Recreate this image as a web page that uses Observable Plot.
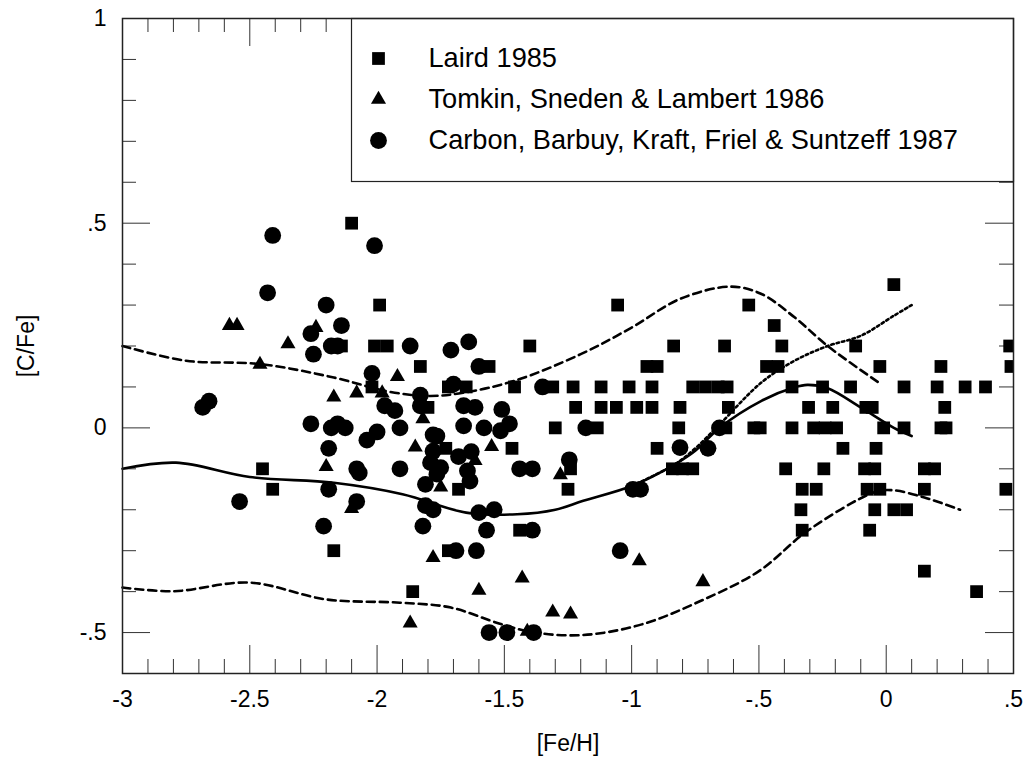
<!DOCTYPE html>
<html><head><meta charset="utf-8">
<script src="https://cdn.jsdelivr.net/npm/d3@7"></script>
<script src="https://cdn.jsdelivr.net/npm/@observablehq/plot@0.6"></script>
<style>body{margin:0;background:#fff}svg{display:block}</style>
</head><body><div id="chart"></div>
<script>
// ---- Data ----
const seriesNames = ["Laird 1985", "Tomkin, Sneden & Lambert 1986", "Carbon, Barbuy, Kraft, Friel & Suntzeff 1987"];

const lairdFeH = [-2.10,-1.99,-2.14,-2.01,-1.96,-2.02,-2.45,-2.41,-2.17,
  -1.83,-1.56,-1.72,-1.65,-1.46,-1.31,-1.23,-1.12,-1.01,-0.92,-0.76,-0.71,-0.66,-0.625,-0.37,-0.25,-0.14,0.07,0.20,0.31,0.39,
  -1.80,-1.22,-1.12,-1.06,-0.98,-0.92,-0.81,-0.62,-0.305,-0.21,-0.08,-0.055,0.23,
  -1.30,-1.135,-0.815,-0.63,-0.52,-0.495,-0.37,-0.285,-0.24,-0.195,-0.01,0.07,0.215,0.235,
  -1.73,-1.47,-0.90,-0.17,-0.04,
  -1.24,-0.84,-0.80,-0.76,-0.395,-0.245,-0.085,-0.045,0.15,0.19,
  -1.68,-1.25,-0.33,-0.275,-0.075,-0.025,0.15,0.47,
  -0.335,-0.045,0.03,0.08,
  -0.33,-0.065,-1.44,
  -1.72,-1.86,0.15,0.355,
  0.03,-0.54,-1.055,-0.44,
  -1.40,-0.835,-0.635,-0.41,-0.12,0.485,
  -0.94,-0.90,-0.47,-0.425,-0.025,0.215,0.49];
const lairdCFe = [0.50,0.30,0.20,0.20,0.20,0.10,-0.10,-0.15,-0.30,
  0.15,0.15,0.10,0.10,0.10,0.10,0.10,0.10,0.10,0.10,0.10,0.10,0.10,0.10,0.10,0.10,0.10,0.10,0.10,0.10,0.10,
  0.05,0.05,0.05,0.05,0.05,0.05,0.05,0.05,0.05,0.05,0.05,0.05,0.05,
  0,0,0,0,0,0,0,0,0,0,0,0,0,0,
  -0.05,-0.05,-0.05,-0.05,-0.05,
  -0.10,-0.10,-0.10,-0.10,-0.10,-0.10,-0.10,-0.10,-0.10,-0.10,
  -0.15,-0.15,-0.15,-0.15,-0.15,-0.15,-0.15,-0.15,
  -0.20,-0.20,-0.20,-0.20,
  -0.25,-0.25,-0.25,
  -0.30,-0.40,-0.35,-0.40,
  0.35,0.30,0.30,0.25,
  0.20,0.20,0.20,0.20,0.20,0.20,
  0.15,0.15,0.15,0.15,0.15,0.15,0.15];

const tomkinFeH = [-2.58,-2.55,-2.24,-2.35,-2.46,-1.92,-2.17,-2.08,-1.98,-1.82,-2.20,-2.10,-1.85,-1.55,-1.615,-1.75,-1.78,-1.60,-1.87,-1.43,-1.41,-1.31,-1.24,-1.28,-0.97,-0.72];
const tomkinCFe = [0.25,0.25,0.245,0.205,0.155,0.125,0.075,0.085,0.085,0.022,-0.095,-0.197,-0.047,-0.046,-0.08,-0.145,-0.317,-0.397,-0.477,-0.367,-0.497,-0.45,-0.455,-0.115,-0.325,-0.376];

const carbonFeH = [-2.41,-2.01,-2.43,-2.20,-2.14,-2.26,-2.18,-2.155,-2.25,-2.02,-1.97,-1.93,-2.685,-2.66,
  -2.26,-2.18,-2.155,-2.125,-2.04,-2.0,-1.91,-2.19,-2.08,-2.07,-1.91,-2.19,-2.54,-2.08,-2.21,
  -1.87,-1.71,-1.64,-1.60,-1.83,-1.70,-1.35,-1.83,-1.66,-1.615,-1.51,-1.66,-1.58,-1.48,-1.515,
  -1.78,-1.765,-1.78,-1.68,-1.63,-1.79,-1.75,-1.765,-1.645,-1.635,-1.81,-1.81,-1.78,-1.82,
  -1.60,-1.54,-1.57,-1.39,-1.44,-1.39,-1.69,-1.61,-1.56,-1.49,-1.385,
  -1.18,-1.245,-1.045,-0.995,-0.965,-0.81,-0.70,-0.655];
const carbonCFe = [0.47,0.445,0.33,0.30,0.25,0.23,0.20,0.20,0.18,0.133,0.054,0.042,0.05,0.065,
  0.01,0.0,0.01,0.0,-0.03,-0.01,0.0,-0.05,-0.10,-0.11,-0.10,-0.15,-0.18,-0.18,-0.24,
  0.20,0.19,0.21,0.15,0.08,0.107,0.10,0.054,0.054,0.05,0.045,0.005,0.0,0.01,-0.007,
  -0.017,-0.02,-0.057,-0.07,-0.058,-0.085,-0.097,-0.113,-0.105,-0.13,-0.138,-0.19,-0.20,-0.24,
  -0.207,-0.20,-0.25,-0.25,-0.10,-0.10,-0.30,-0.30,-0.50,-0.50,-0.50,
  0.0,-0.078,-0.30,-0.15,-0.15,-0.048,-0.05,0.0];

// curves
const meanFeH = [-3,-2.79,-2.5,-2.17,-1.9,-1.65,-1.45,-1.3,-1.19,-1.0,-0.83,-0.75,-0.655,-0.49,-0.36,-0.31,-0.23,-0.1,0.03,0.1];
const meanCFe = [-0.10,-0.085,-0.12,-0.134,-0.162,-0.207,-0.211,-0.20,-0.178,-0.142,-0.089,-0.056,0.0,0.066,0.099,0.105,0.097,0.05,0.0,-0.02];
const upperFeH = [-3,-2.75,-2.46,-2.17,-1.95,-1.79,-1.66,-1.46,-1.2,-1.0,-0.81,-0.61,-0.49,-0.36,-0.23,-0.03];
const upperCFe = [0.20,0.164,0.156,0.123,0.088,0.078,0.086,0.115,0.18,0.245,0.315,0.345,0.327,0.27,0.20,0.111];
const lowerFeH = [-3,-2.8,-2.5,-2.2,-1.91,-1.71,-1.51,-1.38,-1.19,-0.96,-0.73,-0.5,-0.31,-0.05,0.02,0.15,0.29];
const lowerCFe = [-0.39,-0.399,-0.378,-0.419,-0.427,-0.439,-0.48,-0.50,-0.506,-0.48,-0.423,-0.35,-0.252,-0.158,-0.152,-0.17,-0.20];
const dotFeH = [-1.0,-0.83,-0.75,-0.655,-0.49,-0.36,-0.23,-0.1,0.03,0.1];
const dotCFe = [-0.142,-0.089,-0.05,0.008,0.111,0.164,0.20,0.225,0.274,0.30];

// ticks
const xTicks = [-3,-2.5,-2,-1.5,-1,-0.5,0,0.5];
const xTickLabels = ["-3","-2.5","-2","-1.5","-1","-.5","0",".5"];
const yTicks = [-0.5,0,0.5,1];
const yTickLabels = ["-.5","0",".5","1"];
const xTopLong = [-2.5,-1.5,-0.5];

// ---- Build ----
const zip = (a,b) => a.map((v,i) => ({x: v, y: b[i]}));
const laird = zip(lairdFeH, lairdCFe);
const tomkin = zip(tomkinFeH, tomkinCFe);
const carbon = zip(carbonFeH, carbonCFe);
const mean = zip(meanFeH, meanCFe), upper = zip(upperFeH, upperCFe), lower = zip(lowerFeH, lowerCFe), dotted = zip(dotFeH, dotCFe);

const W = 1029, H = 758, mL = 122, mR = 16, mT = 18, mB = 85;
const xDom = [-3, 0.5], yDom = [-0.6, 1];
const pxX = (xDom[1]-xDom[0])/(W-mL-mR), pxY = (yDom[1]-yDom[0])/(H-mT-mB);
const minorX = d3.range(-29, 6).map(i => i/10);
const minorY = d3.range(-6, 11).map(i => i/10);
const S = 14, L = 28;
const tk = {stroke: "#333", strokeWidth: 1};
const font = "Liberation Sans, Arial, Helvetica, sans-serif";
const fs = 23;
const legendFs = 27.2;
const symR = {square: 7.2, triangle: 5.6, circle: 8.4};
const legendDy = [40, 81, 122];
const legendSym = ["square", "triangle", "circle"];

const chart = Plot.plot({
  width: W, height: H,
  marginLeft: mL, marginRight: mR, marginTop: mT, marginBottom: mB,
  style: {fontFamily: font, fontSize: fs + "px", background: "#fff", color: "#000"},
  x: {domain: xDom, axis: null},
  y: {domain: yDom, axis: null},
  marks: [
    // ticks (inward)
    Plot.ruleX(minorX, {x: d => d, y1: yDom[0], y2: d => yDom[0] + (xTicks.includes(d) ? L : S) * pxY, ...tk}),
    Plot.ruleX(minorX, {x: d => d, y1: yDom[1], y2: d => yDom[1] - (xTopLong.includes(d) ? L : S) * pxY, ...tk}),
    Plot.ruleY(minorY, {y: d => d, x1: xDom[0], x2: d => xDom[0] + (yTicks.includes(d) ? L : S) * pxX, ...tk}),
    Plot.ruleY(minorY, {y: d => d, x1: xDom[1], x2: d => xDom[1] - (yTicks.includes(d) ? L : S) * pxX, ...tk}),
    // tick labels
    Plot.text(xTicks, {x: d => d, text: (d, i) => xTickLabels[i], frameAnchor: "bottom", dy: 26, lineAnchor: "middle", textAnchor: "middle", fontSize: fs, fill: "#000"}),
    Plot.text(yTicks, {y: d => d, text: (d, i) => yTickLabels[i], frameAnchor: "left", dx: -16, lineAnchor: "middle", textAnchor: "end", fontSize: fs, fill: "#000"}),
    // curves
    Plot.line(mean, {x: "x", y: "y", curve: "catmull-rom", stroke: "#000", strokeWidth: 2.6}),
    Plot.line(upper, {x: "x", y: "y", curve: "catmull-rom", stroke: "#000", strokeWidth: 2.6, strokeDasharray: "8,5"}),
    Plot.line(lower, {x: "x", y: "y", curve: "catmull-rom", stroke: "#000", strokeWidth: 2.6, strokeDasharray: "8,5"}),
    Plot.line(dotted, {x: "x", y: "y", curve: "catmull-rom", stroke: "#000", strokeWidth: 2.6, strokeDasharray: "2.5,3"}),
    // points
    Plot.dot(laird, {x: "x", y: "y", symbol: "square", r: symR.square, fill: "#000", stroke: "none", clip: true}),
    Plot.dot(tomkin, {x: "x", y: "y", symbol: "triangle", r: symR.triangle, fill: "#000", stroke: "none", clip: true}),
    Plot.dot(carbon, {x: "x", y: "y", symbol: "circle", r: symR.circle, fill: "#000", stroke: "none", clip: true}),
    // legend
    Plot.frame({fill: "#fff", stroke: "#222", strokeWidth: 1.2, insetLeft: 229, insetBottom: 492}),
    ...seriesNames.map((name, i) => Plot.dot([name], {frameAnchor: "top-left", dx: 256, dy: legendDy[i], symbol: legendSym[i], r: symR[legendSym[i]], fill: "#000", stroke: "none"})),
    ...seriesNames.map((name, i) => Plot.text([name], {text: d => d, frameAnchor: "top-left", dx: 306, dy: legendDy[i], textAnchor: "start", lineAnchor: "middle", fontSize: legendFs, fill: "#000"})),
    // frame & axis titles
    Plot.frame({stroke: "#222", strokeWidth: 1.5}),
    Plot.text(["[Fe/H]"], {text: d => d, frameAnchor: "bottom", dy: 70, lineAnchor: "middle", textAnchor: "middle", fontSize: fs, fill: "#000"}),
    Plot.text(["[C/Fe]"], {text: d => d, frameAnchor: "left", dx: -96, rotate: -90, textAnchor: "middle", lineAnchor: "middle", fontSize: fs, fill: "#000"})
  ]
});
document.getElementById("chart").appendChild(chart);
</script></body></html>
